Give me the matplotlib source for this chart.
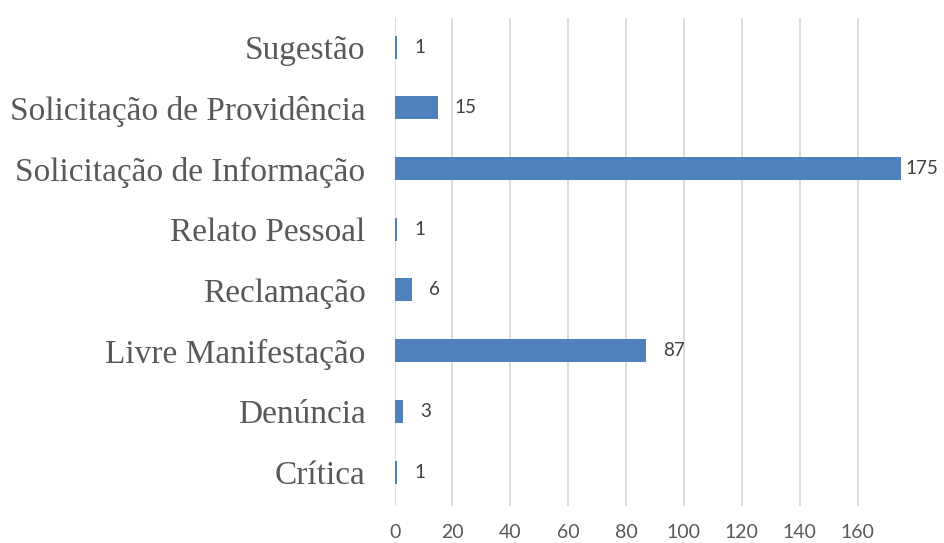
import numpy as np
from matplotlib import pyplot as plt

# Dados do grafico (de baixo para cima)
categorias = ["Crítica", "Denúncia", "Livre Manifestação", "Reclamação",
              "Relato Pessoal", "Solicitação de Informação",
              "Solicitação de Providência", "Sugestão"]
valores = [1, 3, 87, 6, 1, 175, 15, 1]
ticks_x = [0, 20, 40, 60, 80, 100, 120, 140, 160]

cor_barra = '#4F81BD'
cor_texto = '#595959'

fig = plt.figure(figsize=(9.44, 5.43), dpi=100)
ax = fig.add_axes([0.418, 0.068, 0.541, 0.899])

y = np.arange(len(categorias))
ax.barh(y, valores, height=0.38, color=cor_barra, zorder=3)

ax.set_xlim(0, 176.5)
ax.set_ylim(-0.56, 7.48)

# rotulos dos valores (o ultimo fica encostado na borda, como no Excel)
for yi, v in zip(y, valores):
    dx = 12 if v < 170 else 3
    ax.annotate(str(v), (v, yi), xytext=(dx, 0), textcoords='offset points',
                va='center', ha='left', fontsize=13.5, family='Lato',
                color='#404040', annotation_clip=False)

ax.set_xticks(ticks_x)
ax.set_xticklabels([str(t) for t in ticks_x], family='Lato', fontsize=14,
                   color=cor_texto)
ax.set_yticks(y)
ax.set_yticklabels(categorias, family='Liberation Serif', fontsize=24,
                   color=cor_texto)
ax.tick_params(axis='both', length=0)
ax.tick_params(axis='x', pad=13)
ax.tick_params(axis='y', pad=21)

ax.grid(axis='x', color='#D9D9D9', linewidth=1.3, zorder=0)
for s in ax.spines.values():
    s.set_visible(False)

fig.savefig('out.png', dpi=100)
